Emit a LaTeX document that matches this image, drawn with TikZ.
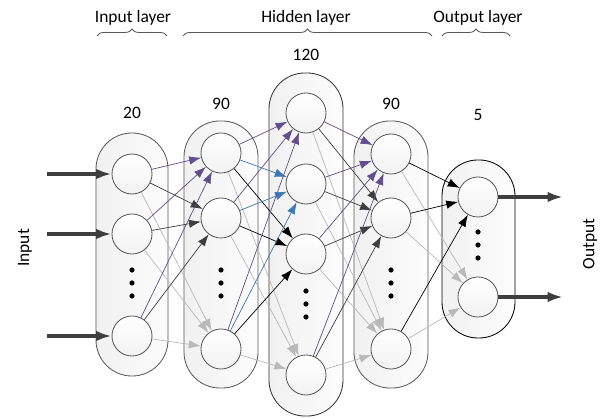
\documentclass[tikz,border=0pt]{standalone}
\usepackage{fontspec}
\setmainfont{Carlito}
\usetikzlibrary{arrows.meta}
\usetikzlibrary{positioning}
\usetikzlibrary{decorations.pathreplacing}

\definecolor{wpurple}{RGB}{98,78,140}
\definecolor{wblue}{RGB}{58,122,182}
\definecolor{wdark}{RGB}{62,62,62}
\definecolor{wlight}{RGB}{185,185,185}
\definecolor{wrim}{RGB}{90,90,90}

\tikzset{
  capsule/.style={draw=wrim, line width=0.6pt, rectangle, rounded corners=0.9cm,
    left color=gray!11, right color=gray!2, inner sep=0},
  neuron/.style={circle, draw=wrim, line width=0.6pt, minimum size=1cm, inner sep=0,
    top color=white, bottom color=gray!10},
  edge/.style={line width=0.5pt, -{Latex[length=8.5pt,width=6pt]}},
  io/.style={line width=2.2pt, wdark, -{Latex[length=11pt,width=7.5pt]}},
  dot/.style={circle, fill=black, minimum size=0.13cm, inner sep=0},
  brace/.style={decorate, decoration={brace, amplitude=5pt}, line width=0.6pt, wrim},
}

\begin{document}
\begin{tikzpicture}[x=0.025cm, y=-0.025cm, font=\fontsize{12.4}{15}\selectfont]
    \useasboundingbox (0,0) rectangle (601,419);

    % layer capsules
    \node[capsule, minimum width=1.8cm, minimum height=6.075cm] (cap1) at (132,254.5) {};
    \node[capsule, minimum width=1.85cm, minimum height=6.675cm] (cap2) at (221,254.5) {};
    \node[capsule, minimum width=1.85cm, minimum height=8.575cm, draw=black!80] (cap3) at (306,244.5) {};
    \node[capsule, minimum width=1.85cm, minimum height=6.675cm] (cap4) at (391,254.5) {};
    \node[capsule, minimum width=1.825cm, minimum height=4.45cm, draw=black] (cap5) at (478.5,249) {};

    % neurons
    \node[neuron] (a1) at (132,174) {};
    \node[neuron] (a2) at (132,234) {};
    \node[neuron] (a3) at (132,336) {};

    \node[neuron] (b1) at (221,153) {};
    \node[neuron] (b2) at (221,218) {};
    \node[neuron] (b3) at (221,349) {};

    \node[neuron] (c1) at (306,113) {};
    \node[neuron] (c2) at (306,184) {};
    \node[neuron] (c3) at (306,254) {};
    \node[neuron] (c4) at (306,375) {};

    \node[neuron] (d1) at (391,154) {};
    \node[neuron] (d2) at (391,218) {};
    \node[neuron] (d3) at (391,349) {};

    \node[neuron] (e1) at (478,197) {};
    \node[neuron] (e2) at (478,297) {};

    % dots
    \foreach \y in {270,283,296} {
        \node[dot] (da\y) at (132,\y) {};
        \node[dot] (db\y) at (221,\y) {};
        \node[dot] (dd\y) at (391,\y) {};
    }
    \foreach \y in {291,304,317}
        \node[dot] (dc\y) at (306,\y) {};
    \foreach \y in {232,245,258}
        \node[dot] (de\y) at (478,\y) {};

    % connections
    \foreach \t/\c in {b3/wlight, b2/wdark, b1/wpurple}
        \foreach \s in {a1,a2,a3}
            \draw[edge, \c] (\s) -- (\t);
    \foreach \t/\c in {c4/wlight, c3/black, c2/wblue, c1/wpurple}
        \foreach \s in {b1,b2,b3}
            \draw[edge, \c] (\s) -- (\t);
    \foreach \t/\c in {d3/wlight, d2/wdark, d1/wpurple}
        \foreach \s in {c1,c2,c3,c4}
            \draw[edge, \c] (\s) -- (\t);
    \foreach \t/\c in {e2/wlight, e1/black}
        \foreach \s in {d1,d2,d3}
            \draw[edge, \c] (\s) -- (\t);

    % input and output
    \coordinate (in1) at (47,174);
    \coordinate (in2) at (47,234);
    \coordinate (in3) at (47,336);
    \draw[io] (in1) -- (a1);
    \draw[io] (in2) -- (a2);
    \draw[io] (in3) -- (a3);

    \coordinate (out1) at (563,197);
    \coordinate (out2) at (563,297);
    \draw[io] (e1) -- (out1);
    \draw[io] (e2) -- (out2);

    \node[rotate=90] (lin) at (25,248) {Input};
    \node[rotate=90] (lout) at (590,244) {Output};

    % sizes
    \node (n20) at (132,113) {20};
    \node (n90a) at (221,104) {90};
    \node (n120) at (306,55) {120};
    \node (n90b) at (391,104) {90};
    \node (n5) at (478,115) {5};

    % layer titles
    \node (tin) at (133,18) {Input layer};
    \node (thid) at (306,18) {Hidden layer};
    \node (tout) at (478,18) {Output layer};
    \draw[brace] (97,36) -- (167,36);
    \draw[brace] (183,36) -- (432,36);
    \draw[brace] (442,36) -- (510,36);
\end{tikzpicture}
\end{document}
